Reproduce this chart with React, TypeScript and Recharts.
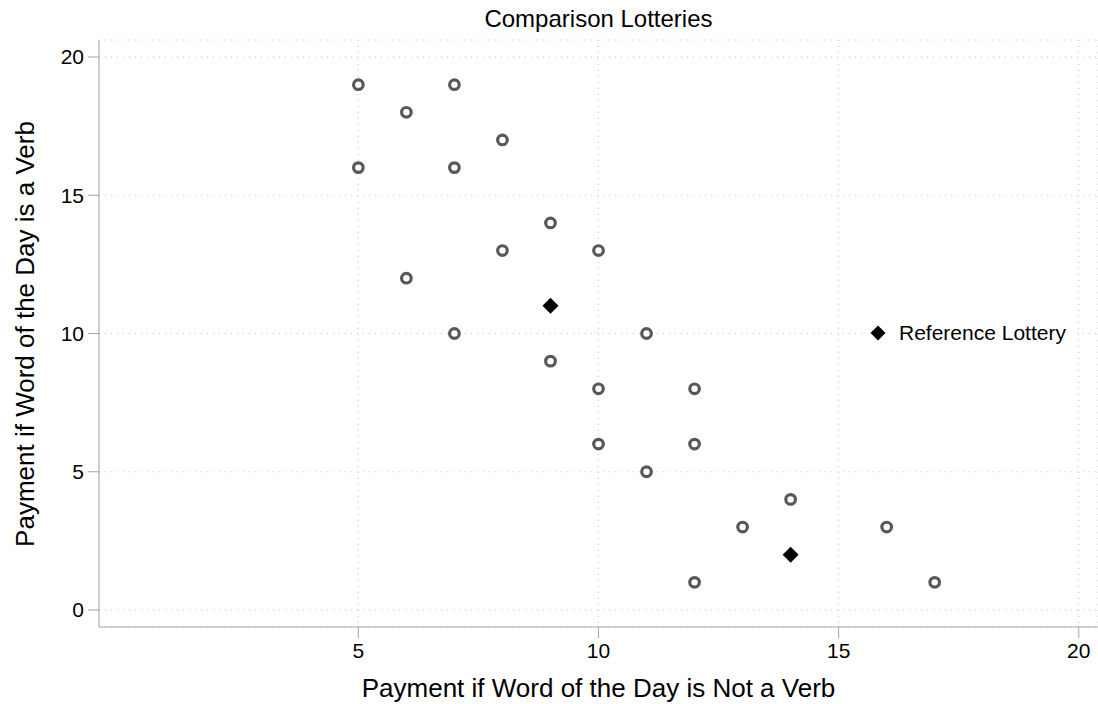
import React from 'react';
import { ScatterChart, Scatter, XAxis, YAxis, CartesianGrid, Label } from 'recharts';

// comparison lotteries (hollow circles)
const comparisonX = [5, 7, 6, 8, 5, 7, 9, 8, 10, 6, 7, 11, 9, 10, 12, 10, 12, 11, 14, 13, 16, 12, 17];
const comparisonY = [19, 19, 18, 17, 16, 16, 14, 13, 13, 12, 10, 10, 9, 8, 8, 6, 6, 5, 4, 3, 3, 1, 1];

// reference lotteries (black diamonds)
const referenceX = [9, 14];
const referenceY = [11, 2];

const xTicks = [5, 10, 15, 20];
const yTicks = [0, 5, 10, 15, 20];

const comparisonData = comparisonX.map((x, i) => ({ x, y: comparisonY[i] }));
const referenceData = referenceX.map((x, i) => ({ x, y: referenceY[i] }));

const FONT = '"Liberation Sans", Arial, Helvetica, sans-serif';
const AXIS = '#a6a6a6';

const RingShape = (props: any) => (
  <circle cx={props.cx} cy={props.cy} r={4.8} fill="#ffffff" stroke="#585858" strokeWidth={3.2} />
);

const DiamondShape = (props: any) => {
  const { cx, cy } = props;
  const d = 8;
  return <polygon points={`${cx},${cy - d} ${cx + d},${cy} ${cx},${cy + d} ${cx - d},${cy}`} fill="#000000" />;
};

const App = () => {
  return (
    <div style={{ position: 'absolute', left: 0, top: 0, width: 1098, height: 704, background: '#ffffff', fontFamily: FONT }}>
      <div style={{ position: 'absolute', left: 99, width: 999, top: 5, textAlign: 'center', fontSize: 24, color: '#000' }}>
        Comparison Lotteries
      </div>
      <ScatterChart width={1098} height={704} margin={{ top: 40, right: 0, bottom: 0, left: 0 }}>
        <CartesianGrid stroke="#c4c4c4" strokeDasharray="1 5" />
        <XAxis
          type="number"
          dataKey="x"
          domain={[-0.4, 20.4]}
          ticks={xTicks}
          allowDataOverflow
          height={77}
          stroke={AXIS}
          tickSize={11}
          tickMargin={5}
          tick={{ fill: '#000', fontSize: 21, fontFamily: FONT }}
        >
          <Label value="Payment if Word of the Day is Not a Verb" position="insideBottom" offset={7} style={{ fontSize: 26, fill: '#000', fontFamily: FONT }} />
        </XAxis>
        <YAxis
          type="number"
          dataKey="y"
          domain={[-0.615, 20.615]}
          ticks={yTicks}
          allowDataOverflow
          width={99}
          stroke={AXIS}
          tickSize={11}
          tickMargin={4}
          tick={{ fill: '#000', fontSize: 21, fontFamily: FONT }}
        >
          <Label
            content={() => (
              <text x={25} y={334} transform="rotate(-90 25 334)" textAnchor="middle" dominantBaseline="central" style={{ fontSize: 26, fill: '#000', fontFamily: FONT }}>
                Payment if Word of the Day is a Verb
              </text>
            )}
          />
        </YAxis>
        <Scatter name="Comparison Lottery" data={comparisonData} shape={RingShape} isAnimationActive={false} />
        <Scatter name="Reference Lottery" data={referenceData} shape={DiamondShape} isAnimationActive={false} />
      </ScatterChart>
      <div style={{ position: 'absolute', left: 862, top: 318, height: 30, display: 'flex', alignItems: 'center', background: '#ffffff', paddingLeft: 7, paddingRight: 10, fontSize: 21, color: '#000' }}>
        <svg width={18} height={18} style={{ marginRight: 12 }}>
          <polygon points="9,1.5 16.5,9 9,16.5 1.5,9" fill="#000000" />
        </svg>
        <span>Reference Lottery</span>
      </div>
    </div>
  );
};

export default App;
